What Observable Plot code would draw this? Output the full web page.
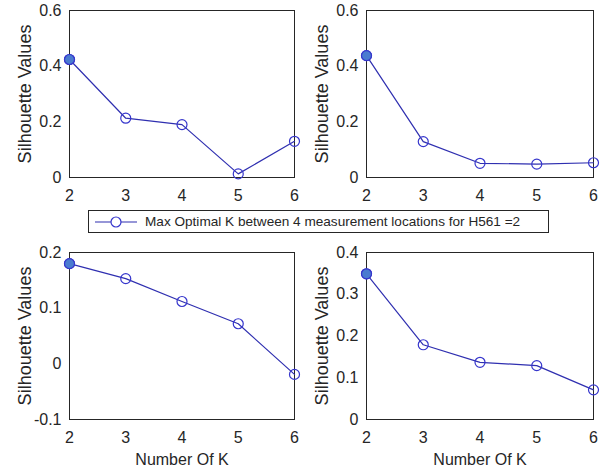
<!DOCTYPE html>
<html>
<head>
<meta charset="utf-8">
<script src="https://cdn.jsdelivr.net/npm/d3@7"></script>
<script src="https://cdn.jsdelivr.net/npm/@observablehq/plot@0.6"></script>
<style>
  html, body { margin: 0; padding: 0; background: #fff; }
  #fig { position: relative; width: 603px; height: 475px; background: #fff; overflow: hidden;
         font-family: "Liberation Sans", Arial, Helvetica, sans-serif; color: #262626; }
  .panel { position: absolute; }
  .panel svg { overflow: visible; }
  #legend { position: absolute; left: 88px; top: 210px; width: 459px; height: 21px;
            border: 1px solid #262626; background: #fff; display: flex; align-items: center;
            font-size: 13.6px; white-space: nowrap; }
  #legend svg { flex: none; margin-left: 5px; margin-right: 7px; }
</style>
</head>
<body>
<div id="fig">
  <div id="legend"></div>
</div>
<script>
// Number of clusters K evaluated at each measurement location
const kValues = [2, 3, 4, 5, 6];

// Mean silhouette value per K, one series per measurement location
const silhouetteA = [0.424, 0.213, 0.190, 0.013, 0.130];
const silhouetteB = [0.438, 0.129, 0.051, 0.048, 0.053];
const silhouetteC = [0.180, 0.153, 0.112, 0.072, -0.019];
const silhouetteD = [0.349, 0.179, 0.137, 0.129, 0.071];

// Y tick labels of each panel
const yTicksA = [0, 0.2, 0.4, 0.6];
const yTicksB = [0, 0.2, 0.4, 0.6];
const yTicksC = [-0.1, 0, 0.1, 0.2];
const yTicksD = [0, 0.1, 0.2, 0.3, 0.4];

const legendLabel = "Max Optimal K between 4 measurement locations for H561 =2";
const yLabel = "Silhouette Values";
const xLabel = "Number Of K";

const lineColor = "#2f2fb0";
const markerColor = "#3636cc";
const maxFill = "#4a7bd0";
const inkColor = "#262626";

function panel({left, top, width, height, margin, values, yTicks, showXLabel}) {
  const data = kValues.map((k, i) => ({k, v: values[i]}));
  const best = data[d3.maxIndex(data, d => d.v)];
  const marks = [
    Plot.frame({stroke: inkColor, strokeWidth: 1}),
    Plot.axisX({ticks: kValues, tickSize: 0, tickPadding: 12, fontSize: 16, label: null, tickFormat: d => String(d)}),
    Plot.axisY({ticks: yTicks, tickSize: 0, tickPadding: 8, fontSize: 16, label: null, tickFormat: d => String(d)}),
    Plot.line(data, {x: "k", y: "v", stroke: lineColor, strokeWidth: 1.2}),
    Plot.dot(data, {x: "k", y: "v", r: 5, stroke: markerColor, strokeWidth: 1.2, fill: "none"}),
    Plot.dot([best], {x: "k", y: "v", r: 5, stroke: markerColor, strokeWidth: 1.2, fill: maxFill}),
    Plot.text([yLabel], {frameAnchor: "left", textAnchor: "middle", dx: -44, rotate: -90, fontSize: 18, fill: inkColor})
  ];
  if (showXLabel) {
    marks.push(Plot.text([xLabel], {frameAnchor: "bottom", dy: 45, fontSize: 16, fill: inkColor}));
  }
  const chart = Plot.plot({
    width, height,
    marginLeft: margin[0], marginRight: margin[1], marginTop: margin[2], marginBottom: margin[3],
    x: {domain: [2, 6]},
    y: {domain: [yTicks[0], yTicks[yTicks.length - 1]]},
    style: {fontFamily: "Liberation Sans, Arial, Helvetica, sans-serif", color: inkColor, background: "transparent", overflow: "visible"},
    marks
  });
  const holder = document.createElement("div");
  holder.className = "panel";
  holder.style.left = left + "px";
  holder.style.top = top + "px";
  holder.appendChild(chart);
  document.getElementById("fig").insertBefore(holder, document.getElementById("legend"));
}

panel({left: 0,   top: 0,   width: 300, height: 215, margin: [69, 6, 10, 38], values: silhouetteA, yTicks: yTicksA, showXLabel: false});
panel({left: 297, top: 0,   width: 302, height: 215, margin: [69, 6, 10, 38], values: silhouetteB, yTicks: yTicksB, showXLabel: false});
panel({left: 0,   top: 242, width: 300, height: 233, margin: [69, 6, 10, 56], values: silhouetteC, yTicks: yTicksC, showXLabel: true});
panel({left: 297, top: 242, width: 302, height: 233, margin: [69, 6, 10, 56], values: silhouetteD, yTicks: yTicksD, showXLabel: true});

// Legend: line-with-circle swatch followed by its label
const legend = document.getElementById("legend");
const ns = "http://www.w3.org/2000/svg";
const sw = document.createElementNS(ns, "svg");
sw.setAttribute("width", 44);
sw.setAttribute("height", 14);
const ln = document.createElementNS(ns, "line");
ln.setAttribute("x1", 1); ln.setAttribute("x2", 43); ln.setAttribute("y1", 7); ln.setAttribute("y2", 7);
ln.setAttribute("stroke", lineColor); ln.setAttribute("stroke-width", 1.2);
const cc = document.createElementNS(ns, "circle");
cc.setAttribute("cx", 22); cc.setAttribute("cy", 7); cc.setAttribute("r", 5);
cc.setAttribute("fill", "#fff"); cc.setAttribute("stroke", markerColor); cc.setAttribute("stroke-width", 1.2);
sw.appendChild(ln); sw.appendChild(cc);
legend.appendChild(sw);
const lt = document.createElement("span");
lt.textContent = legendLabel;
legend.appendChild(lt);
</script>
</body>
</html>
